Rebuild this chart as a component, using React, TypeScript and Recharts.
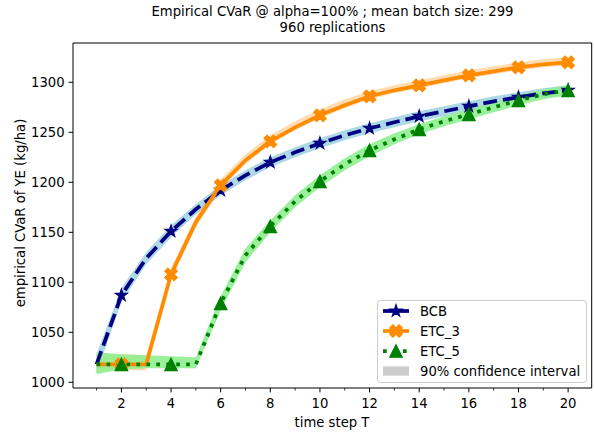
import React from 'react';
import { ComposedChart, Area, Line, XAxis, YAxis, Legend, ReferenceArea, Label } from 'recharts';

const steps = [1, 2, 3, 4, 5, 6, 7, 8, 9, 10, 11, 12, 13, 14, 15, 16, 17, 18, 19, 20];
const yTicks = [1000, 1050, 1100, 1150, 1200, 1250, 1300];

const bcb = [1018, 1087, 1124, 1151, 1173, 1192, 1207, 1220, 1230, 1239, 1247, 1254, 1260, 1266, 1271, 1276, 1281, 1285, 1289, 1292];
const bcbLow = [1009, 1080, 1118, 1145, 1168, 1187, 1202, 1215, 1225, 1234, 1242, 1249, 1255, 1261, 1266, 1271, 1276, 1280, 1284, 1287];
const bcbHigh = [1028, 1094, 1130, 1157, 1178, 1197, 1212, 1225, 1235, 1244, 1252, 1259, 1265, 1271, 1276, 1281, 1286, 1290, 1294, 1297];

const etc3 = [1018, 1018, 1018, 1108, 1160, 1197, 1222, 1241, 1255, 1267, 1277, 1286, 1292, 1297, 1302, 1307, 1311, 1315, 1318, 1320];
const etc3Low = [1010, 1012, 1012, 1102, 1155, 1193, 1218, 1238, 1252, 1264, 1274, 1283, 1289, 1294, 1299, 1304, 1308, 1312, 1315, 1317];
const etc3High = [1028, 1028, 1027, 1114, 1166, 1203, 1228, 1247, 1261, 1273, 1283, 1291, 1297, 1302, 1307, 1312, 1316, 1320, 1323, 1325];

const etc5 = [1018, 1018, 1018, 1018, 1018, 1079, 1127, 1156, 1181, 1201, 1218, 1232, 1243, 1253, 1261, 1268, 1275, 1282, 1288, 1292];
const etc5Low = [1008, 1013, 1014, 1014, 1014, 1072, 1120, 1150, 1175, 1195, 1212, 1226, 1238, 1248, 1256, 1263, 1270, 1277, 1283, 1287];
const etc5High = [1030, 1028, 1027, 1026, 1025, 1086, 1134, 1162, 1187, 1207, 1224, 1238, 1249, 1258, 1266, 1273, 1280, 1287, 1293, 1297];

const data = steps.map((t, i) => ({
  t,
  bcb: bcb[i],
  etc3: etc3[i],
  etc5: etc5[i],
  bcbBand: [bcbLow[i], bcbHigh[i]],
  etc3Band: [etc3Low[i], etc3High[i]],
  etc5Band: [etc5Low[i], etc5High[i]],
}));

const FONT = 'DejaVu Sans';
const FS = 13.2;
const MS = 12.5;

function starPoints(cx: number, cy: number, R: number) {
  const r = R * 0.381966;
  const pts: string[] = [];
  for (let i = 0; i < 10; i++) {
    const a = -Math.PI / 2 + (i * Math.PI) / 5;
    const rad = i % 2 === 0 ? R : r;
    pts.push(`${cx + rad * Math.cos(a)},${cy + rad * Math.sin(a)}`);
  }
  return pts.join(' ');
}

const xVerts = [
  [-1, -2], [0, -1], [1, -2], [2, -1], [1, 0], [2, 1],
  [1, 2], [0, 1], [-1, 2], [-2, 1], [-1, 0], [-2, -1],
];
function xPoints(cx: number, cy: number, size: number) {
  const u = size / 4;
  return xVerts.map(([a, b]) => `${cx + a * u},${cy + b * u}`).join(' ');
}
function triPoints(cx: number, cy: number, size: number) {
  const h = size / 2;
  return `${cx},${cy - h} ${cx - h},${cy + h} ${cx + h},${cy + h}`;
}

const Star = ({ cx, cy }: { cx: number; cy: number }) => (
  <polygon points={starPoints(cx, cy, MS / 2)} fill="#000080" stroke="#000080" strokeWidth={1.2} />
);
const Cross = ({ cx, cy }: { cx: number; cy: number }) => (
  <polygon points={xPoints(cx, cy, MS)} fill="#ff8c00" stroke="#ff8c00" strokeWidth={1.2} />
);
const Tri = ({ cx, cy }: { cx: number; cy: number }) => (
  <polygon points={triPoints(cx, cy, MS)} fill="#008000" stroke="#008000" strokeWidth={1.2} />
);

// markers only on even time steps
const makeDot = (name: string, Marker: React.FC<{ cx: number; cy: number }>) => (props: any) => {
  const { cx, cy, payload, index } = props;
  if (payload.t % 2 !== 0 || cx == null || cy == null) return <g key={`${name}-${index}`} />;
  return (
    <g key={`${name}-${index}`}>
      <Marker cx={cx} cy={cy} />
    </g>
  );
};

const XTick = (props: any) => {
  const { x, y, payload } = props;
  const major = payload.value % 2 === 0;
  return (
    <g>
      <line x1={x} x2={x} y1={y} y2={y + (major ? 4.4 : 2.5)} stroke="#000" strokeWidth={major ? 1 : 0.8} />
      {major && (
        <text x={x} y={y + 20} textAnchor="middle" fontSize={FS} fontFamily={FONT} fill="#000">
          {payload.value}
        </text>
      )}
    </g>
  );
};

const LegendBox = () => {
  const rows = [
    { label: 'BCB', kind: 'bcb' },
    { label: 'ETC_3', kind: 'etc3' },
    { label: 'ETC_5', kind: 'etc5' },
    { label: '90% confidence interval', kind: 'ci' },
  ];
  return (
    <svg width={210} height={83} style={{ display: 'block' }}>
      <rect x={0.5} y={0.5} width={209} height={82} rx={3} fill="#fff" fillOpacity={0.8} stroke="#cccccc" />
      {rows.map((r, i) => {
        const cy = 11 + i * 20;
        const x1 = 6;
        const x2 = 32;
        const mx = (x1 + x2) / 2;
        return (
          <g key={r.label}>
            {r.kind === 'bcb' && (
              <>
                <line x1={x1} x2={x2} y1={cy} y2={cy} stroke="#000080" strokeWidth={3.75} />
                <Star cx={mx} cy={cy} />
              </>
            )}
            {r.kind === 'etc3' && (
              <>
                <line x1={x1} x2={x2} y1={cy} y2={cy} stroke="#ff8c00" strokeWidth={3.75} />
                <Cross cx={mx} cy={cy} />
              </>
            )}
            {r.kind === 'etc5' && (
              <>
                <line x1={x1} x2={x2} y1={cy} y2={cy} stroke="#008000" strokeWidth={3.75} strokeDasharray="3.75 6.2" />
                <Tri cx={mx} cy={cy} />
              </>
            )}
            {r.kind === 'ci' && <rect x={x1} y={cy - 4.6} width={26} height={9.2} fill="#cccccc" />}
            <text x={43} y={cy + 4.8} fontSize={FS} fontFamily={FONT} fill="#000">
              {r.label}
            </text>
          </g>
        );
      })}
    </svg>
  );
};

export default function App() {
  return (
    <div style={{ position: 'absolute', left: 0, top: 0, width: 594, height: 433, background: '#fff', fontFamily: FONT }}>
      <div
        style={{
          position: 'absolute',
          left: 73,
          width: 519,
          top: 4,
          textAlign: 'center',
          fontSize: FS,
          lineHeight: '16px',
          color: '#000',
          fontFamily: FONT,
        }}
      >
        Empirical CVaR @ alpha=100% ; mean batch size: 299
        <br />
        960 replications
      </div>
      <ComposedChart
        width={594}
        height={433}
        data={data}
        margin={{ top: 43, right: 2.3, left: 0, bottom: 0 }}
        style={{ position: 'absolute', left: 0, top: 0, fontFamily: FONT }}
      >
        <XAxis
          dataKey="t"
          type="number"
          domain={[0.05, 20.95]}
          ticks={steps}
          interval={0}
          allowDataOverflow
          height={45}
          axisLine={false}
          tickLine={false}
          tickSize={0}
          tickMargin={0}
          tick={<XTick />}
        >
          <Label
            content={() => (
              <text x={332} y={427} textAnchor="middle" fontSize={FS} fontFamily={FONT} fill="#000">
                time step T
              </text>
            )}
          />
        </XAxis>
        <YAxis
          type="number"
          domain={[994.3, 1339.3]}
          ticks={yTicks}
          interval={0}
          allowDataOverflow
          width={73}
          axisLine={false}
          tickSize={4.4}
          tickMargin={4}
          tickLine={{ stroke: '#000' }}
          tick={{ fill: '#000', fontSize: FS, fontFamily: FONT }}
        >
          <Label
            content={() => (
              <text
                x={24.5}
                y={213}
                transform="rotate(-90 24.5 213)"
                textAnchor="middle"
                fontSize={FS}
                fontFamily={FONT}
                fill="#000"
              >
                empirical CVaR of YE (kg/ha)
              </text>
            )}
          />
        </YAxis>

        <Area dataKey="bcbBand" type="linear" stroke="none" fill="#add8e6" fillOpacity={1} dot={false} activeDot={false} isAnimationActive={false} />
        <Area dataKey="etc3Band" type="linear" stroke="none" fill="#ff8c00" fillOpacity={0.3} dot={false} activeDot={false} isAnimationActive={false} />
        <Area dataKey="etc5Band" type="linear" stroke="none" fill="#90ee90" fillOpacity={0.9} dot={false} activeDot={false} isAnimationActive={false} />

        <Line
          dataKey="bcb"
          type="linear"
          stroke="#000080"
          strokeWidth={3.75}
          strokeDasharray="13.9 6"
          dot={makeDot('bcb', Star)}
          activeDot={false}
          isAnimationActive={false}
        />
        <Line
          dataKey="etc3"
          type="linear"
          stroke="#ff8c00"
          strokeWidth={3.75}
          dot={makeDot('etc3', Cross)}
          activeDot={false}
          isAnimationActive={false}
        />
        <Line
          dataKey="etc5"
          type="linear"
          stroke="#008000"
          strokeWidth={3.75}
          strokeDasharray="3.75 6.2"
          dot={makeDot('etc5', Tri)}
          activeDot={false}
          isAnimationActive={false}
        />

        <ReferenceArea x1={0.05} x2={20.95} y1={994.3} y2={1339.3} fill="none" stroke="#000" strokeWidth={1} ifOverflow="visible" />

        <Legend
          layout="vertical"
          align="center"
          verticalAlign="middle"
          content={() => <LegendBox />}
          wrapperStyle={{ left: 377, top: 300, width: 210, height: 83 }}
        />
      </ComposedChart>
    </div>
  );
}
